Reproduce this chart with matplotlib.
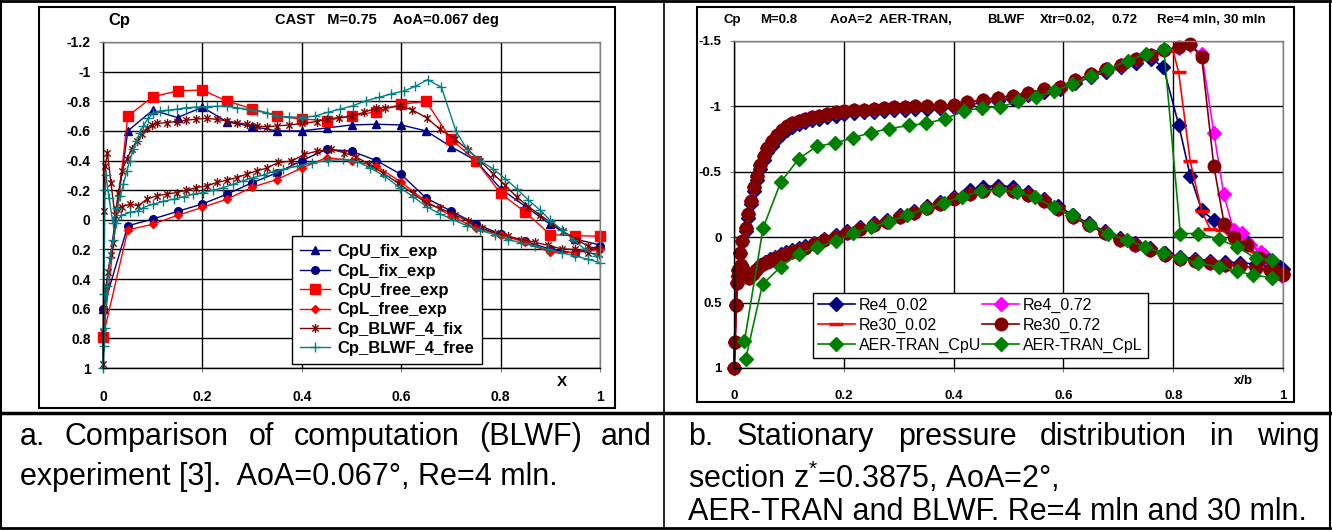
"""Two Cp(x) panels side by side in a bordered two-cell table with captions."""

import matplotlib
matplotlib.use("Agg")
import matplotlib.pyplot as plt
from matplotlib.lines import Line2D
from matplotlib.patches import Rectangle
from matplotlib.path import Path
from matplotlib.ticker import FixedLocator, FuncFormatter

plt.rcParams["font.family"] = ["Liberation Sans", "DejaVu Sans"]
plt.rcParams["mathtext.fontset"] = "custom"
plt.rcParams["mathtext.rm"] = "Liberation Sans"
plt.rcParams["mathtext.it"] = "Liberation Sans"

W, H = 1332, 530

# ---------------- panel a: CAST M=0.75 ----------------
EXP_X = [0.0, 0.05, 0.10, 0.15, 0.20, 0.25, 0.30, 0.35, 0.40, 0.45, 0.50,
         0.55, 0.60, 0.65, 0.70, 0.75, 0.80, 0.85, 0.90, 0.95, 1.0]
CPU_FIX = [0.60, -0.60, -0.74, -0.69, -0.76, -0.66, -0.63, -0.60, -0.60, -0.62, -0.64,
           -0.645, -0.64, -0.60, -0.494, -0.40, -0.21, -0.09, 0.03, 0.13, 0.17]
CPL_FIX = [0.60, 0.04, -0.005, -0.057, -0.107, -0.174, -0.25, -0.317, -0.40, -0.475, -0.464,
           -0.40, -0.306, -0.147, -0.06, 0.027, 0.097, 0.146, 0.198, 0.225, 0.175]
CPU_FREE = [0.79, -0.70, -0.83, -0.87, -0.876, -0.80, -0.75, -0.70, -0.68, -0.67, -0.70,
            -0.73, -0.78, -0.80, -0.544, -0.40, -0.178, -0.051, 0.10, 0.107, 0.111]
CPL_FREE = [0.79, 0.068, 0.03, -0.03, -0.084, -0.14, -0.22, -0.272, -0.35, -0.42, -0.40,
            -0.362, -0.254, -0.125, -0.027, 0.056, 0.10, 0.153, 0.22, 0.22, 0.20]

FIX_UX = [0.0, 0.002, 0.004, 0.009, 0.016, 0.024, 0.031, 0.038, 0.048, 0.058,
          0.068, 0.078, 0.088, 0.098, 0.108, 0.128, 0.148, 0.168, 0.188, 0.209,
          0.229, 0.249, 0.269, 0.289, 0.309, 0.33, 0.35, 0.375, 0.40, 0.43,
          0.45, 0.475, 0.50, 0.525, 0.55, 0.567, 0.598, 0.621, 0.651, 0.678,
          0.708, 0.735, 0.758, 0.785, 0.809, 0.832, 0.856, 0.879, 0.903, 0.926,
          0.953, 0.976, 0.997]
FIX_UC = [0.97, -0.06, -0.36, -0.45, -0.25, -0.03, -0.18, -0.33, -0.41, -0.477,
          -0.533, -0.578, -0.618, -0.64, -0.65, -0.656, -0.663, -0.672, -0.68, -0.685,
          -0.678, -0.667, -0.656, -0.645, -0.634, -0.627, -0.634, -0.64, -0.65, -0.663,
          -0.679, -0.69, -0.70, -0.725, -0.754, -0.756, -0.767, -0.744, -0.689, -0.611,
          -0.544, -0.471, -0.40, -0.311, -0.233, -0.156, -0.089, -0.033, 0.022, 0.078,
          0.133, 0.178, 0.20]
FIX_LX = [0.0, 0.001, 0.003, 0.007, 0.010, 0.017, 0.021, 0.028, 0.038, 0.054,
          0.071, 0.088, 0.108, 0.128, 0.148, 0.168, 0.188, 0.209, 0.229, 0.249,
          0.269, 0.289, 0.309, 0.329, 0.353, 0.379, 0.405, 0.431, 0.459, 0.485,
          0.51, 0.536, 0.563, 0.593, 0.624, 0.651, 0.678, 0.708, 0.735, 0.762,
          0.789, 0.815, 0.842, 0.869, 0.896, 0.923, 0.95, 0.976, 0.997]
FIX_LC = [0.97, 0.76, 0.60, 0.45, 0.35, 0.24, 0.155, -0.07, -0.088, -0.106,
          -0.095, -0.139, -0.162, -0.173, -0.184, -0.20, -0.218, -0.229, -0.252, -0.267,
          -0.285, -0.308, -0.33, -0.348, -0.387, -0.396, -0.441, -0.464, -0.475, -0.453,
          -0.423, -0.374, -0.317, -0.249, -0.178, -0.111, -0.078, -0.033, 0.011, 0.056,
          0.089, 0.111, 0.133, 0.151, 0.173, 0.196, 0.20, 0.222, 0.233]

FREE_UX = [0.0, 0.002, 0.004, 0.006, 0.012, 0.02, 0.028, 0.035, 0.041, 0.048,
           0.054, 0.061, 0.068, 0.074, 0.081, 0.091, 0.101, 0.115, 0.131, 0.148,
           0.168, 0.188, 0.209, 0.229, 0.249, 0.269, 0.289, 0.309, 0.329,
           0.35, 0.375, 0.40, 0.426, 0.452, 0.477, 0.503, 0.529, 0.555, 0.58,
           0.606, 0.628, 0.653, 0.681, 0.71, 0.732, 0.758, 0.785, 0.809, 0.832,
           0.856, 0.879, 0.899, 0.923, 0.946, 0.97, 0.993]
FREE_UC = [1.0, 0.50, -0.20, -0.30, -0.15, 0.02, -0.08, -0.16, -0.24, -0.33,
           -0.40, -0.476, -0.533, -0.589, -0.634, -0.685, -0.724, -0.735, -0.74, -0.746,
           -0.757, -0.76, -0.764, -0.766, -0.766, -0.757, -0.746, -0.735, -0.724,
           -0.70, -0.695, -0.69, -0.70, -0.725, -0.747, -0.77, -0.804, -0.826, -0.85,
           -0.87, -0.90, -0.946, -0.894, -0.60, -0.478, -0.40, -0.344, -0.278, -0.211,
           -0.133, -0.067, 0.0, 0.067, 0.133, 0.20, 0.244]
FREE_LX = [0.0, 0.002, 0.004, 0.008, 0.015, 0.02, 0.027, 0.037, 0.054, 0.071,
           0.081, 0.101, 0.121, 0.142, 0.162, 0.182, 0.202, 0.222, 0.242, 0.262,
           0.282, 0.302, 0.323, 0.343, 0.363, 0.39, 0.42, 0.452, 0.482, 0.512,
           0.537, 0.567, 0.598, 0.624, 0.651, 0.678, 0.705, 0.732, 0.758, 0.789,
           0.815, 0.842, 0.869, 0.896, 0.923, 0.95, 0.976, 1.0]
FREE_LC = [1.0, 0.85, 0.73, 0.45, 0.25, 0.135, 0.02, -0.03, -0.05, -0.06,
           -0.083, -0.106, -0.124, -0.14, -0.155, -0.173, -0.184, -0.20, -0.218, -0.24,
           -0.263, -0.285, -0.303, -0.326, -0.34, -0.362, -0.385, -0.40, -0.408, -0.392,
           -0.351, -0.294, -0.215, -0.156, -0.089, -0.04, 0.0, 0.04, 0.071, 0.10,
           0.133, 0.156, 0.178, 0.20, 0.222, 0.244, 0.267, 0.289]

# ---------------- panel b: M=0.8 AoA=2 ----------------
B_UX = [0.0, 0.002, 0.004, 0.007, 0.011, 0.015, 0.021, 0.026, 0.031, 0.036,
        0.042, 0.048, 0.054, 0.061, 0.07, 0.079, 0.088, 0.097, 0.106, 0.118,
        0.13, 0.142, 0.155, 0.17, 0.185, 0.2, 0.218, 0.236, 0.255, 0.273,
        0.291, 0.312, 0.33, 0.352, 0.376, 0.4, 0.425, 0.454, 0.48, 0.508,
        0.535, 0.565, 0.593, 0.622, 0.651, 0.678, 0.705, 0.732, 0.76]
B_UC_RE30 = [1.0, 0.80, 0.52, 0.30, 0.12, 0.03, -0.07, -0.18, -0.28, -0.38,
             -0.47, -0.55, -0.62, -0.68, -0.735, -0.78, -0.82, -0.85, -0.87, -0.89,
             -0.905, -0.92, -0.93, -0.944, -0.955, -0.962, -0.97, -0.975, -0.98, -0.987,
             -0.992, -0.995, -1.0, -1.0, -1.005, -1.013, -1.03, -1.05, -1.067, -1.08,
             -1.105, -1.13, -1.15, -1.2, -1.246, -1.285, -1.32, -1.36, -1.39]
B_UC_RE4 = [1.0, 0.80, 0.52, 0.30, 0.12, 0.03, -0.05, -0.15, -0.25, -0.35,
            -0.44, -0.52, -0.59, -0.65, -0.70, -0.75, -0.79, -0.82, -0.845, -0.865,
            -0.88, -0.895, -0.905, -0.92, -0.93, -0.94, -0.948, -0.955, -0.96, -0.965,
            -0.97, -0.975, -0.98, -0.982, -0.985, -0.993, -1.01, -1.03, -1.045, -1.06,
            -1.085, -1.11, -1.135, -1.18, -1.225, -1.265, -1.30, -1.335, -1.366]
# rear upper surface (shock) per series
RE4_002_TX = [0.782, 0.81, 0.831, 0.852, 0.874, 0.904, 0.934, 0.965, 0.995]
RE4_002_TC = [-1.30, -0.86, -0.47, -0.205, -0.13, -0.066, 0.035, 0.136, 0.225]
RE4_072_TX = [0.783, 0.81, 0.831, 0.852, 0.874, 0.892, 0.91, 0.925, 0.94, 0.96, 0.977, 0.998]
RE4_072_TC = [-1.43, -1.45, -1.47, -1.40, -0.80, -0.33, -0.053, -0.03, 0.06, 0.11, 0.19, 0.30]
RE30_002_TX = [0.783, 0.80, 0.81, 0.831, 0.852, 0.867, 0.889, 0.922, 0.959, 0.995]
RE30_002_TC = [-1.43, -1.42, -1.26, -0.58, -0.197, -0.066, -0.053, 0.06, 0.16, 0.25]
RE30_072_TX = [0.783, 0.81, 0.831, 0.852, 0.874, 0.893, 0.91, 0.934, 0.959, 0.983, 1.0]
RE30_072_TC = [-1.43, -1.456, -1.475, -1.374, -0.545, -0.10, 0.0, 0.06, 0.16, 0.24, 0.29]

B_LX = [0.0, 0.001, 0.003, 0.005, 0.008, 0.012, 0.017, 0.022, 0.028, 0.034,
        0.04, 0.048, 0.056, 0.065, 0.075, 0.085, 0.095, 0.106, 0.118, 0.13,
        0.145, 0.164, 0.185, 0.206, 0.23, 0.255, 0.279, 0.303, 0.327, 0.352,
        0.376, 0.40, 0.43, 0.454, 0.48, 0.508, 0.535, 0.564, 0.591, 0.618,
        0.646, 0.676, 0.703, 0.731, 0.758, 0.785, 0.813, 0.84, 0.867, 0.895,
        0.922, 0.95, 0.977, 1.0]
B_LC_RE30 = [1.0, 0.80, 0.52, 0.35, 0.25, 0.21, 0.24, 0.29, 0.31, 0.28,
             0.25, 0.22, 0.20, 0.18, 0.16, 0.14, 0.125, 0.11, 0.095, 0.08,
             0.055, 0.025, -0.005, -0.035, -0.065, -0.095, -0.12, -0.155, -0.185, -0.22,
             -0.255, -0.29, -0.33, -0.355, -0.365, -0.355, -0.32, -0.275, -0.215, -0.155,
             -0.09, -0.03, 0.02, 0.06, 0.10, 0.135, 0.165, 0.18, 0.195, 0.21,
             0.22, 0.235, 0.25, 0.28]
B_LC_RE4 = [1.0, 0.80, 0.52, 0.35, 0.25, 0.21, 0.24, 0.28, 0.30, 0.27,
            0.24, 0.21, 0.19, 0.17, 0.15, 0.13, 0.115, 0.10, 0.085, 0.07,
            0.045, 0.015, -0.015, -0.045, -0.075, -0.105, -0.135, -0.17, -0.20, -0.235,
            -0.27, -0.31, -0.36, -0.385, -0.395, -0.385, -0.345, -0.295, -0.235, -0.17,
            -0.105, -0.045, 0.005, 0.045, 0.085, 0.12, 0.15, 0.165, 0.18, 0.19,
            0.195, 0.205, 0.215, 0.24]

AER_UX = [0.019, 0.053, 0.085, 0.118, 0.151, 0.184, 0.217, 0.25, 0.283, 0.318,
          0.35, 0.384, 0.419, 0.452, 0.485, 0.517, 0.55, 0.583, 0.616, 0.65,
          0.682, 0.717, 0.75, 0.783, 0.813, 0.846, 0.883, 0.916, 0.95, 0.98]
AER_UC = [0.795, -0.07, -0.42, -0.60, -0.695, -0.72, -0.76, -0.80, -0.83, -0.854,
          -0.87, -0.905, -0.964, -0.99, -0.995, -1.04, -1.07, -1.118, -1.17, -1.23,
          -1.285, -1.35, -1.40, -1.44, -0.028, -0.028, 0.015, 0.073, 0.16, 0.174]
AER_LX = [0.021, 0.052, 0.085, 0.118, 0.152, 0.185, 0.217, 0.25, 0.282, 0.316,
          0.35, 0.383, 0.415, 0.45, 0.482, 0.515, 0.548, 0.582, 0.615, 0.649,
          0.682, 0.716, 0.749, 0.782, 0.813, 0.846, 0.883, 0.916, 0.946, 0.98]
AER_LC = [0.934, 0.36, 0.227, 0.126, 0.076, 0.03, -0.03, -0.076, -0.12, -0.17,
          -0.22, -0.265, -0.31, -0.35, -0.36, -0.343, -0.306, -0.23, -0.167, -0.09,
          -0.028, 0.023, 0.073, 0.124, 0.16, 0.2, 0.225, 0.26, 0.29, 0.31]

NAVY, RED, DKRED, TEAL = "#000080", "#FF0000", "#800000", "#008080"
MAGENTA, GREEN = "#FF00FF", "#008000"

# Excel "star": an X with a vertical stroke
STAR = Path([(-0.7, -0.7), (0.7, 0.7), (-0.7, 0.7), (0.7, -0.7), (0, -1), (0, 1)],
            [Path.MOVETO, Path.LINETO] * 3)


def loop(xu, cu, xl, cl):
    """Upper surface TE->LE, then lower surface LE->TE."""
    return list(xu)[::-1] + list(xl)[1:], list(cu)[::-1] + list(cl)[1:]


def fmt(v, _):
    v = round(v, 2)
    return "0" if abs(v) < 1e-9 else f"{v:g}"


def px_axes(x0, y0, x1, y1):
    return [x0 / W, 1 - y1 / H, (x1 - x0) / W, (y1 - y0) / H]


def style_axes(ax, yticks, fs):
    ax.set_xlim(0, 1)
    ax.xaxis.set_major_locator(FixedLocator([0, 0.2, 0.4, 0.6, 0.8, 1.0]))
    ax.yaxis.set_major_locator(FixedLocator(yticks))
    ax.xaxis.set_major_formatter(FuncFormatter(fmt))
    ax.yaxis.set_major_formatter(FuncFormatter(fmt))
    ax.grid(True, color="black", lw=1.0)
    ax.set_axisbelow(True)
    for side in ("top", "right"):
        ax.spines[side].set_color("#808080")
    for sp in ax.spines.values():
        sp.set_linewidth(1.0)
    ax.tick_params(direction="out", length=3, width=0.8, color="#808080")
    ax.tick_params(axis="x", pad=13)
    ax.tick_params(axis="y", pad=6)
    for lab in ax.get_xticklabels() + ax.get_yticklabels():
        lab.set_fontweight("bold")
        lab.set_fontsize(fs)


fig = plt.figure(figsize=(W / 100, H / 100), dpi=100)

# table borders and chart-area boxes
DIV_X = 664
for (xa, ya, xb, yb, lw) in [(1, 1, 1330, 1, 2.0), (1, 528, 1330, 528, 2.0),
                             (1, 1, 1, 528, 1.5), (1330, 1, 1330, 528, 1.5),
                             (DIV_X, 1, DIV_X, 528, 1.2), (1, 413, 1330, 413, 2.5)]:
    fig.add_artist(Line2D([xa / W, xb / W], [1 - ya / H, 1 - yb / H], color="black", lw=lw))
for (x0, y0, x1, y1) in [(39, 7, 615, 408), (697, 7, 1294, 402)]:
    fig.add_artist(Rectangle((x0 / W, 1 - y1 / H), (x1 - x0) / W, (y1 - y0) / H,
                             transform=fig.transFigure, fill=False, ec="black", lw=1.5))

# ---------- panel a ----------
axL = fig.add_axes(px_axes(103, 42, 600, 368))
style_axes(axL, [-1.2 + 0.2 * i for i in range(12)], 10)
axL.set_ylim(1.0, -1.2)
common = dict(lw=1.0, clip_on=False)
h1, = axL.plot(EXP_X, CPU_FIX, color=NAVY, marker="^", ms=6, label="CpU_fix_exp", **common)
h2, = axL.plot(EXP_X, CPL_FIX, color=NAVY, marker="o", ms=5.5, label="CpL_fix_exp", **common)
h3, = axL.plot(EXP_X, CPU_FREE, color=RED, marker="s", ms=6.5, label="CpU_free_exp", **common)
h4, = axL.plot(EXP_X, CPL_FREE, color=RED, marker="D", ms=4.5, label="CpL_free_exp", **common)
fx, fc = loop(FIX_UX, FIX_UC, FIX_LX, FIX_LC)
h5, = axL.plot(fx, fc, color=DKRED, marker=STAR, ms=6.5, mew=1.0, label="Cp_BLWF_4_fix", **common)
gx, gc = loop(FREE_UX, FREE_UC, FREE_LX, FREE_LC)
h6, = axL.plot(gx, gc, color=TEAL, marker="+", ms=7, mew=1.0, label="Cp_BLWF_4_free", **common)

fig.text(108 / W, 1 - 20 / H, "Cp", fontsize=12, fontweight="bold", va="center")
fig.text(387 / W, 1 - 20 / H, "CAST   M=0.75    AoA=0.067 deg", fontsize=10.5,
         fontweight="bold", ha="center", va="center")
axL.text(0.923, -0.02, "X", transform=axL.transAxes, fontsize=11, fontweight="bold",
         ha="center", va="top")

legL = fig.legend(handles=[h1, h2, h3, h4, h5, h6], loc="upper left",
                  bbox_to_anchor=(292 / W, 1 - 236 / H), bbox_transform=fig.transFigure,
                  borderaxespad=0, frameon=True, fancybox=False, framealpha=1,
                  edgecolor="black", prop={"weight": "bold", "size": 12},
                  handlelength=1.8, handletextpad=0.4, labelspacing=0.26,
                  borderpad=0.5)
legL.get_frame().set_linewidth(1.0)

# ---------- panel b ----------
axR = fig.add_axes(px_axes(734, 41, 1283, 368))
style_axes(axR, [-1.5, -1.0, -0.5, 0.0, 0.5, 1.0], 9.5)
axR.set_ylim(1.0, -1.5)

x, c = loop(B_UX + RE4_002_TX, B_UC_RE4 + RE4_002_TC, B_LX, B_LC_RE4)
r1, = axR.plot(x, c, color=NAVY, marker="D", ms=7, lw=1.2, clip_on=False, label="Re4_0.02")
x, c = loop(B_UX + RE4_072_TX, B_UC_RE30 + RE4_072_TC, B_LX, B_LC_RE30)
r2, = axR.plot(x, c, color=MAGENTA, marker="D", ms=7, lw=1.2, clip_on=False, label="Re4_0.72")
x, c = loop(B_UX + RE30_002_TX, B_UC_RE30 + RE30_002_TC, B_LX, B_LC_RE30)
r3, = axR.plot(x, c, color=RED, marker="_", ms=10, mew=2.5, lw=1.2, clip_on=False,
               label="Re30_0.02")
x, c = loop(B_UX + RE30_072_TX, B_UC_RE30 + RE30_072_TC, B_LX, B_LC_RE30)
r4, = axR.plot(x, c, color=DKRED, marker="o", ms=9, lw=1.2, clip_on=False, label="Re30_0.72")
r5, = axR.plot(AER_UX, AER_UC, color=GREEN, marker="D", ms=7.5, lw=1.2, clip_on=False,
               label="AER-TRAN_CpU")
r6, = axR.plot(AER_LX, AER_LC, color=GREEN, marker="D", ms=7.5, lw=1.2, clip_on=False,
               label="AER-TRAN_CpL")

title_parts = [(723, "Cp"), (760, "M=0.8"), (830, "AoA=2  AER-TRAN,"), (987, "BLWF"),
               (1040, "Xtr=0.02,"), (1112, "0.72"), (1157, "Re=4 mln, 30 mln")]
for xp, s in title_parts:
    fig.text(xp / W, 1 - 20 / H, s, fontsize=9.5, fontweight="bold", va="center")
axR.text(0.927, -0.02, "x/b", transform=axR.transAxes, fontsize=9.5, fontweight="bold",
         ha="center", va="top")

legR = fig.legend(handles=[r1, r3, r5, r2, r4, r6], ncol=2, loc="upper left",
                  bbox_to_anchor=(813 / W, 1 - 293 / H), bbox_transform=fig.transFigure,
                  borderaxespad=0, frameon=True, fancybox=False, framealpha=1,
                  edgecolor="black", prop={"size": 11.5},
                  handlelength=2.3, handletextpad=0.25, labelspacing=0.3,
                  columnspacing=0.1, borderpad=0.3)
legR.get_frame().set_linewidth(1.0)

# ---------- captions ----------
CAP_FS = 22
renderer = fig.canvas.get_renderer()


def justified(words, x0, x1, y):
    texts = [fig.text(0, 1 - y / H, w, fontsize=CAP_FS, va="center") for w in words]
    widths = [t.get_window_extent(renderer).width for t in texts]
    gap = (x1 - x0 - sum(widths)) / (len(words) - 1)
    xp = x0
    for t, w in zip(texts, widths):
        t.set_x(xp / W)
        xp += w + gap


justified("a. Comparison of computation (BLWF) and".split(), 20, 652, 437)
fig.text(20 / W, 1 - 477 / H, "experiment [3].  AoA=0.067°, Re=4 mln.", fontsize=CAP_FS,
         va="center")
justified("b. Stationary pressure distribution in wing".split(), 688, 1320, 437)
fig.text(688 / W, 1 - 477 / H, "section z$^{*}$=0.3875, AoA=2°,", fontsize=CAP_FS,
         va="center")
fig.text(688 / W, 1 - 512 / H, "AER-TRAN and BLWF. Re=4 mln and 30 mln.", fontsize=CAP_FS,
         va="center")

fig.savefig("out.png", dpi=100)
